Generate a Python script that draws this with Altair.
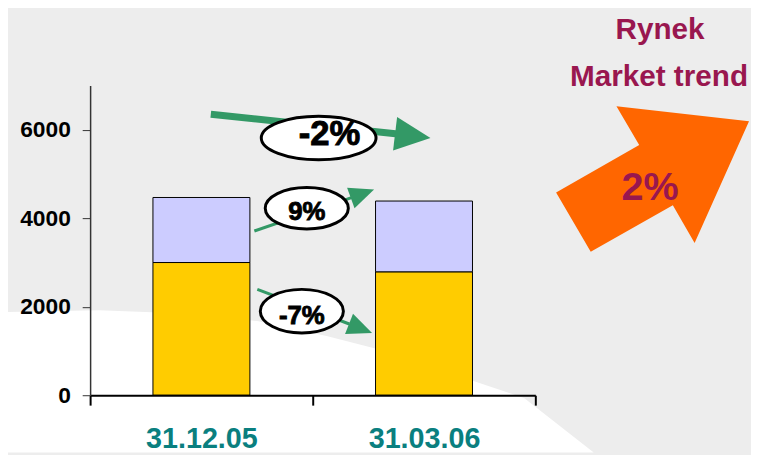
import altair as alt
import pandas as pd
import math

# ---------------- data ----------------
dates = ["31.12.05", "31.03.06"]
core_values = [3000, 2790]     # yellow segment
other_values = [1470, 1600]    # lavender segment
series_names = ["core", "other"]
series_colors = ["#FFCC00", "#CCCCFF"]
y_ticks = [0, 2000, 4000, 6000]

change_labels = ["-2%", "9%", "-7%"]
market_label = "2%"
title_lines = ["Rynek", "Market trend"]

# ---------------- layout ----------------
W, H = 450, 313
PAD = {"left": 83, "top": 76, "right": 218, "bottom": 58}
OX, OY = 8 + PAD["left"], 8 + PAD["top"]

FONT = "Liberation Sans"
GREEN = "#339966"
MAROON = "#99174F"

def px(x):
    return x - OX

def py(y):
    return y - OY

rows = []
for d, c, o in zip(dates, core_values, other_values):
    rows.append({"date": d, "series": series_names[0], "value": c, "ord": 0})
    rows.append({"date": d, "series": series_names[1], "value": o, "ord": 1})
bars_df = pd.DataFrame(rows)

bars = alt.Chart(bars_df).mark_bar(size=98, stroke="black", strokeWidth=1).encode(
    x=alt.X("date:N", sort=dates, title=None,
            scale=alt.Scale(paddingInner=0, paddingOuter=0),
            axis=alt.Axis(labelAngle=0, labelFont=FONT, labelFontSize=29,
                          labelFontWeight="bold", labelColor="#0A7F7F",
                          labelPadding=20, tickBand="extent", tickSize=10,
                          tickColor="black", tickWidth=2, domainColor="black",
                          domainWidth=2, grid=False, zindex=2)),
    y=alt.Y("value:Q", stack="zero", title=None,
            scale=alt.Scale(domain=[0, 7000], nice=False),
            axis=alt.Axis(values=y_ticks, format="d", labelFont=FONT, labelFontSize=23,
                          labelFontWeight="bold", labelColor="black",
                          labelPadding=12, tickSize=8, tickColor="#333333",
                          domainColor="#333333", domainWidth=1.5, grid=False, zindex=2)),
    color=alt.Color("series:N", scale=alt.Scale(domain=series_names, range=series_colors),
                    legend=None),
    order=alt.Order("ord:Q"),
)

# white swoosh in the background
sw_x = [0, 100, 200, 260, 330, 400, 480, 530, 600]
sw_y = [313, 311, 315, 322, 337, 355, 383, 400, 455]
sw_df = pd.DataFrame({"x": [px(v) for v in sw_x], "y": [py(v) for v in sw_y],
                      "y2": [py(455)] * len(sw_x)})
swoosh = alt.Chart(sw_df).mark_area(color="white", opacity=1).encode(
    x=alt.X("x:Q", scale=None, axis=None),
    y=alt.Y("y:Q", scale=None, axis=None),
    y2="y2:Q",
)

layers = [swoosh, bars]

# arrows: shaft start, shaft end, tip, head length, head half width, shaft width
arrows = [
    dict(x1=213, y1=113, x2=402, y2=133, tx=435, ty=137, L=36, Wd=17, sw=7),
    dict(x1=257, y1=231, x2=356, y2=197, tx=378, ty=189, L=25, Wd=11, sw=3),
    dict(x1=260, y1=290, x2=353, y2=325, tx=376, ty=334, L=25, Wd=11, sw=3),
]
for a in arrows:
    sdf = pd.DataFrame({"x": [px(a["x1"])], "y": [py(a["y1"])],
                        "x2": [px(a["x2"])], "y2": [py(a["y2"])]})
    layers.append(alt.Chart(sdf).mark_rule(color=GREEN, strokeWidth=a["sw"]).encode(
        x=alt.X("x:Q", scale=None, axis=None), y=alt.Y("y:Q", scale=None, axis=None),
        x2="x2:Q", y2="y2:Q"))
    ang = math.degrees(math.atan2(a["ty"] - a["y2"], a["tx"] - a["x2"])) % 360
    path = f"M0,0 L{-a['L']},{-a['Wd']} L{-a['L']},{a['Wd']} Z"
    hdf = pd.DataFrame({"x": [px(a["tx"])], "y": [py(a["ty"])]})
    layers.append(alt.Chart(hdf).mark_point(shape=path, size=4, filled=True, fill=GREEN,
                                            opacity=1, angle=ang).encode(
        x=alt.X("x:Q", scale=None, axis=None), y=alt.Y("y:Q", scale=None, axis=None)))

# ellipses with labels
ellipses = [
    dict(cx=322, cy=137, rx=58, ry=22, tx=333, ty=133, fs=35),
    dict(cx=310, cy=208, rx=42, ry=21, tx=310, ty=212, fs=26),
    dict(cx=305, cy=312, rx=42, ry=22, tx=305, ty=317, fs=26),
]
for e, lab in zip(ellipses, change_labels):
    path = (f"M{-e['rx']},0 A{e['rx']},{e['ry']} 0 1,0 {e['rx']},0 "
            f"A{e['rx']},{e['ry']} 0 1,0 {-e['rx']},0 Z")
    edf = pd.DataFrame({"x": [px(e["cx"])], "y": [py(e["cy"])]})
    layers.append(alt.Chart(edf).mark_point(shape=path, size=4, filled=True, fill="white",
                                            stroke="black", strokeWidth=3, opacity=1).encode(
        x=alt.X("x:Q", scale=None, axis=None), y=alt.Y("y:Q", scale=None, axis=None)))
    tdf = pd.DataFrame({"x": [px(e["tx"])], "y": [py(e["ty"])], "t": [lab]})
    layers.append(alt.Chart(tdf).mark_text(font=FONT, fontSize=e["fs"], fontWeight=700,
                                           color="black", stroke="black", strokeWidth=0.9,
                                           align="center", baseline="middle").encode(
        x=alt.X("x:Q", scale=None, axis=None), y=alt.Y("y:Q", scale=None, axis=None),
        text="t:N"))

# big orange market arrow
orange_path = "M-37,-75 L97,-60 L42,63 L20,25 L-63,72 L-98,12 L-14,-36 Z"
odf = pd.DataFrame({"x": [px(660)], "y": [py(180)]})
layers.append(alt.Chart(odf).mark_point(shape=orange_path, size=4, filled=True,
                                        fill="#FF6600", opacity=1).encode(
    x=alt.X("x:Q", scale=None, axis=None), y=alt.Y("y:Q", scale=None, axis=None)))

mdf = pd.DataFrame({"x": [px(657)], "y": [py(188)], "t": [market_label]})
layers.append(alt.Chart(mdf).mark_text(font=FONT, fontSize=40, fontWeight=700,
                                       color=MAROON, align="center", baseline="middle").encode(
    x=alt.X("x:Q", scale=None, axis=None), y=alt.Y("y:Q", scale=None, axis=None),
    text="t:N"))

tl_df = pd.DataFrame({"x": [px(667), px(666)], "y": [py(28), py(75)], "t": title_lines})
layers.append(alt.Chart(tl_df).mark_text(font=FONT, fontSize=30, fontWeight=700,
                                         color=MAROON, align="center",
                                         baseline="middle").encode(
    x=alt.X("x:Q", scale=None, axis=None), y=alt.Y("y:Q", scale=None, axis=None),
    text="t:N"))

chart = alt.layer(*layers).properties(
    width=W, height=H,
    autosize=alt.AutoSizeParams(type="none"),
    padding=PAD,
    background="#EDEDED",
).configure_view(stroke=None)

chart.save("out.html", embed_options={"renderer": "svg", "actions": False})
